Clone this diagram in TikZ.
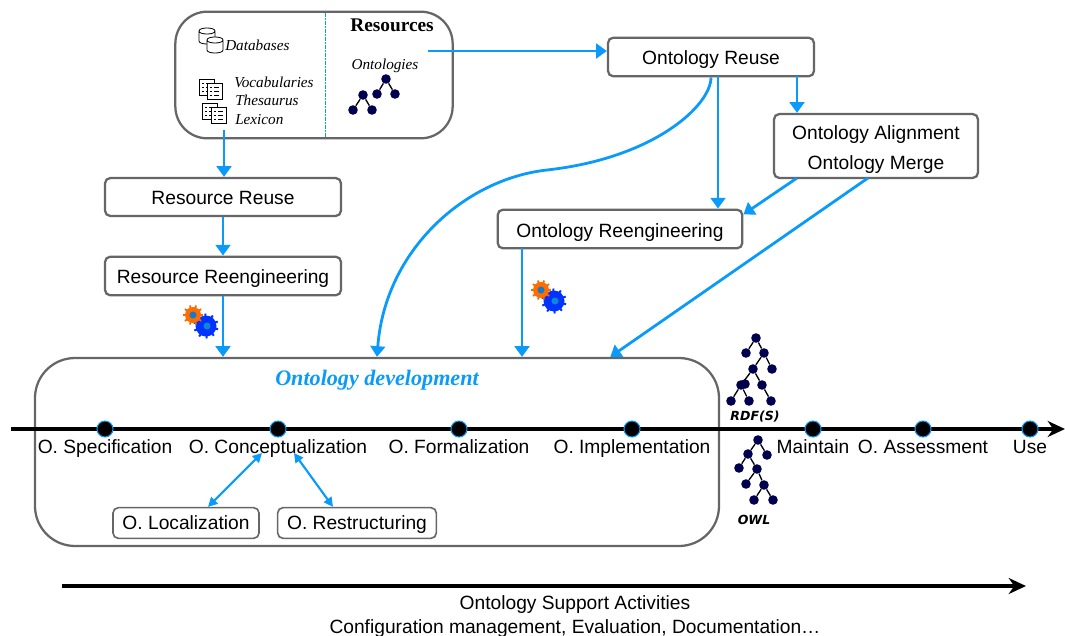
\documentclass[tikz,border=0pt]{standalone}
\usepackage{fontspec}
\setmainfont{Liberation Sans}
\newfontfamily\timesfont{Liberation Serif}
\newfontfamily\labelfont{DejaVu Sans}
\usetikzlibrary{arrows.meta}
\definecolor{flowblue}{HTML}{0A9BFA}
\definecolor{boxgray}{HTML}{666666}
\definecolor{treenavy}{HTML}{00004F}

\begin{document}
\begin{tikzpicture}[
            x=0.75pt, y=-0.75pt,
            rect box/.style={rectangle, rounded corners=4pt, draw=boxgray, line width=1.7pt, fill=white, align=center, inner sep=0pt, text height=11.4pt, text depth=0pt, font=\fontsize{14.4}{22.5}\selectfont},
            small box/.style={rect box, line width=1.2pt},
            big box/.style={rect box, rounded corners=24pt},
            flow/.style={-{Triangle[length=8pt,width=11pt]}, draw=flowblue, line width=2.1pt},
            small flow/.style={{Triangle[length=7pt,width=7pt]}-{Triangle[length=7pt,width=7pt]}, draw=flowblue, line width=1.6pt},
            axis/.style={-{Stealth[length=13pt,width=12pt]}, draw=black, line width=2.6pt},
            stage/.style={circle, fill=black, draw=flowblue, line width=0.8pt, minimum size=12pt, inner sep=0pt},
            stage label/.style={inner sep=0pt, text height=10.4pt, text depth=0pt, font=\fontsize{14.4}{17}\selectfont},
            res label/.style={inner sep=0pt, text height=7.6pt, text depth=0pt, font=\timesfont\itshape\fontsize{11.4}{14}\selectfont},
            tree label/.style={inner sep=0pt, font=\labelfont\bfseries\itshape\fontsize{9.4}{11}\selectfont},
            leaf/.style={circle, fill=treenavy, minimum size=7.2pt, inner sep=0pt},
            branch/.style={draw=black, line width=1pt},
            db/.pic={
                \draw[fill=white, line width=0.6pt] (0,3) -- (0,13) .. controls (0,17) and (16,17) .. (16,13) -- (16,3) .. controls (16,-1) and (0,-1) .. (0,3) .. controls (0,7) and (16,7) .. (16,3);
            },
            page/.pic={
                \draw[fill=white, line width=0.6pt] (0,0) rectangle (15,16);
                \foreach \yy in {4,8,12} \draw[line width=0.5pt] (3,\yy) -- (5,\yy) (7,\yy) -- (12,\yy);
            },
            gear/.pic={
                \foreach \aa in {15,51,...,340} \draw[line width=1.5pt, draw=blue!80!cyan] (13,11) -- ++(\aa:12.5);
                \fill[blue!80!cyan] (13,11) circle[radius=10.5];
                \fill[cyan!70!blue] (14,11) circle[radius=3.5];
                \foreach \aa in {0,36,...,330} \draw[line width=1.3pt, draw=orange!80!red] (0,0) -- (\aa:10);
                \fill[orange!85!red] (0,0) circle[radius=8];
                \fill[cyan!60!blue] (0,0) circle[radius=3.5];
            }
    ]
        \useasboundingbox (0,0) rectangle (1065,636);

        % Resources
        \node[big box, minimum width=208pt, minimum height=95pt] (resources) at (314,75) {};
        \coordinate (div_top) at (325,13);
        \coordinate (div_bot) at (325,138);
        \draw[flowblue, line width=0.7pt, dash pattern=on 3pt off 1pt on 1pt off 1pt] (div_top) -- (div_bot);
        \node[inner sep=0pt, font=\timesfont\bfseries\fontsize{14.5}{17}\selectfont] (res_title) at (392,25) {Resources};
        \node[res label, anchor=west] (res_db) at (225,45) {Databases};
        \node[res label, anchor=west] (res_voc) at (234,82) {Vocabularies};
        \node[res label, anchor=west] (res_the) at (235,100) {Thesaurus};
        \node[res label, anchor=west] (res_lex) at (235,119) {Lexicon};
        \node[res label] (res_ont) at (385,64) {Ontologies};
        \pic at (199,28) {db};
        \pic at (207,37) {db};
        \pic at (199,79) {page};
        \pic at (207,83) {page};
        \pic at (202,103) {page};
        \pic at (211,107) {page};

        % Ontologies tree
        \foreach \nm/\px/\py in {a/386/79, b/377/94, c/395/94, d/363/95, e/353/110, f/372/110}
            \node[leaf] (ont_\nm) at (\px,\py) {};
        \foreach \from/\to in {a/b, a/c, d/e, d/f}
            \draw[branch] (ont_\from) -- (ont_\to);

        % Boxes
        \node[rect box, minimum width=154.5pt, minimum height=29pt] (ont_reuse) at (711,57) {Ontology Reuse};
        \node[rect box, text height=, text depth=, minimum width=153pt, minimum height=48pt] (ont_align) at (876,146) {\rule{0pt}{16.4pt}Ontology Alignment\\Ontology Merge};
        \node[rect box, text height=12pt, minimum width=183.5pt, minimum height=29pt] (ont_reeng) at (620,229) {Ontology Reengineering};
        \node[rect box, minimum width=177pt, minimum height=28.5pt] (res_reuse) at (223,197) {Resource Reuse};
        \node[rect box, minimum width=177pt, minimum height=29pt] (res_reeng) at (223,276) {Resource Reengineering};

        % Ontology development
        \node[big box, rounded corners=30pt, fill=none, minimum width=513pt, minimum height=141pt] (dev) at (377,452) {};
        \node[inner sep=0pt, text=flowblue, font=\timesfont\bfseries\itshape\fontsize{16.6}{18}\selectfont] (dev_title) at (377,380) {Ontology development};

        % Timeline
        \coordinate (line_start) at (11,429);
        \coordinate (line_end) at (1065,429);
        \draw[axis] (line_start) -- (line_end);
        \foreach \nm/\px/\txt in {spec/105/O. Specification, conc/278/O. Conceptualization, form/459/O. Formalization, impl/632/O. Implementation, main/813/Maintain, asse/923/O. Assessment, use/1030/Use}{
            \node[stage] (dot_\nm) at (\px,429) {};
            \node[stage label] (lab_\nm) at (\px,447) {\txt};
        }
        \node[small box, text height=10.4pt, minimum width=109.5pt, minimum height=23pt] (loc) at (186,523) {O. Localization};
        \node[small box, text height=10.4pt, minimum width=119pt, minimum height=23pt] (rest) at (357,523) {O. Restructuring};

        % RDF(S) tree
        \foreach \nm/\px/\py in {a/756/338, b/746/353, c/764/353, d/753/369, e/772/369, f/741/385, g/745/384, h/762/385, i/731/401, j/749/401, k/771/401}
            \node[leaf] (rdf_\nm) at (\px,\py) {};
        \foreach \from/\to in {a/b, a/c, c/d, c/e, d/f, d/h, f/i, f/j, h/k}
            \draw[branch] (rdf_\from) -- (rdf_\to);
        \node[tree label] (rdf_label) at (755,417) {RDF(S)};

        % OWL tree
        \foreach \nm/\px/\py in {a/758/440, b/748/454, c/767/455, d/739/468, e/757/469, f/746/484, g/764/485, h/754/500, i/773/500}
            \node[leaf] (owl_\nm) at (\px,\py) {};
        \foreach \from/\to in {a/b, a/c, b/d, b/e, e/f, e/g, g/h, g/i}
            \draw[branch] (owl_\from) -- (owl_\to);
        \node[tree label] (owl_label) at (754,520) {OWL};

        % Gears
        \pic at (193,315) {gear};
        \pic at (541,290) {gear};

        % Arrows
        \coordinate (res_right) at (428,51);
        \coordinate (res_down) at (224,130);
        \coordinate (conc_left) at (262,453);
        \coordinate (conc_right) at (294,453);
        \coordinate (reuse_right) at (797,76);
        \coordinate (reuse_mid) at (718,76);
        \coordinate (reeng_left) at (522,248);
        \coordinate (align_left) at (797,178);
        \coordinate (align_mid) at (868,178);
        \draw[flow] (res_right) -- (res_right -| ont_reuse.west);
        \draw[flow] (res_down) -- (res_down |- res_reuse.north);
        \draw[flow] (res_reuse) -- (res_reeng);
        \draw[flow] (res_reeng.south) -- (res_reeng |- dev.north);
        \draw[flow] (reuse_right) -- (reuse_right |- ont_align.north);
        \draw[flow] (reuse_mid) -- (reuse_mid |- ont_reeng.north);
        \draw[flow] (ont_reuse.south) .. controls (711,105) and (655,158) .. (547,170) .. controls (465,179) and (385,250) .. (dev.north);
        \draw[flow] (align_left) -- ([yshift=11pt]ont_reeng.east);
        \draw[flow] (align_mid) -- ([xshift=175pt]dev.north);
        \draw[flow] (reeng_left) -- (reeng_left |- dev.north);
        \draw[small flow] (conc_left) -- ([xshift=16.5pt]loc.north);
        \draw[small flow] (conc_right) -- ([xshift=-18pt]rest.north);

        % Support activities
        \coordinate (sup_start) at (62,586);
        \coordinate (sup_end) at (1026,586);
        \draw[axis] (sup_start) -- (sup_end);
        \node[stage label] (sup_a) at (575,603) {Ontology Support Activities};
        \node[stage label] (sup_b) at (575,627) {Configuration management, Evaluation, Documentation…};
\end{tikzpicture}
\end{document}
